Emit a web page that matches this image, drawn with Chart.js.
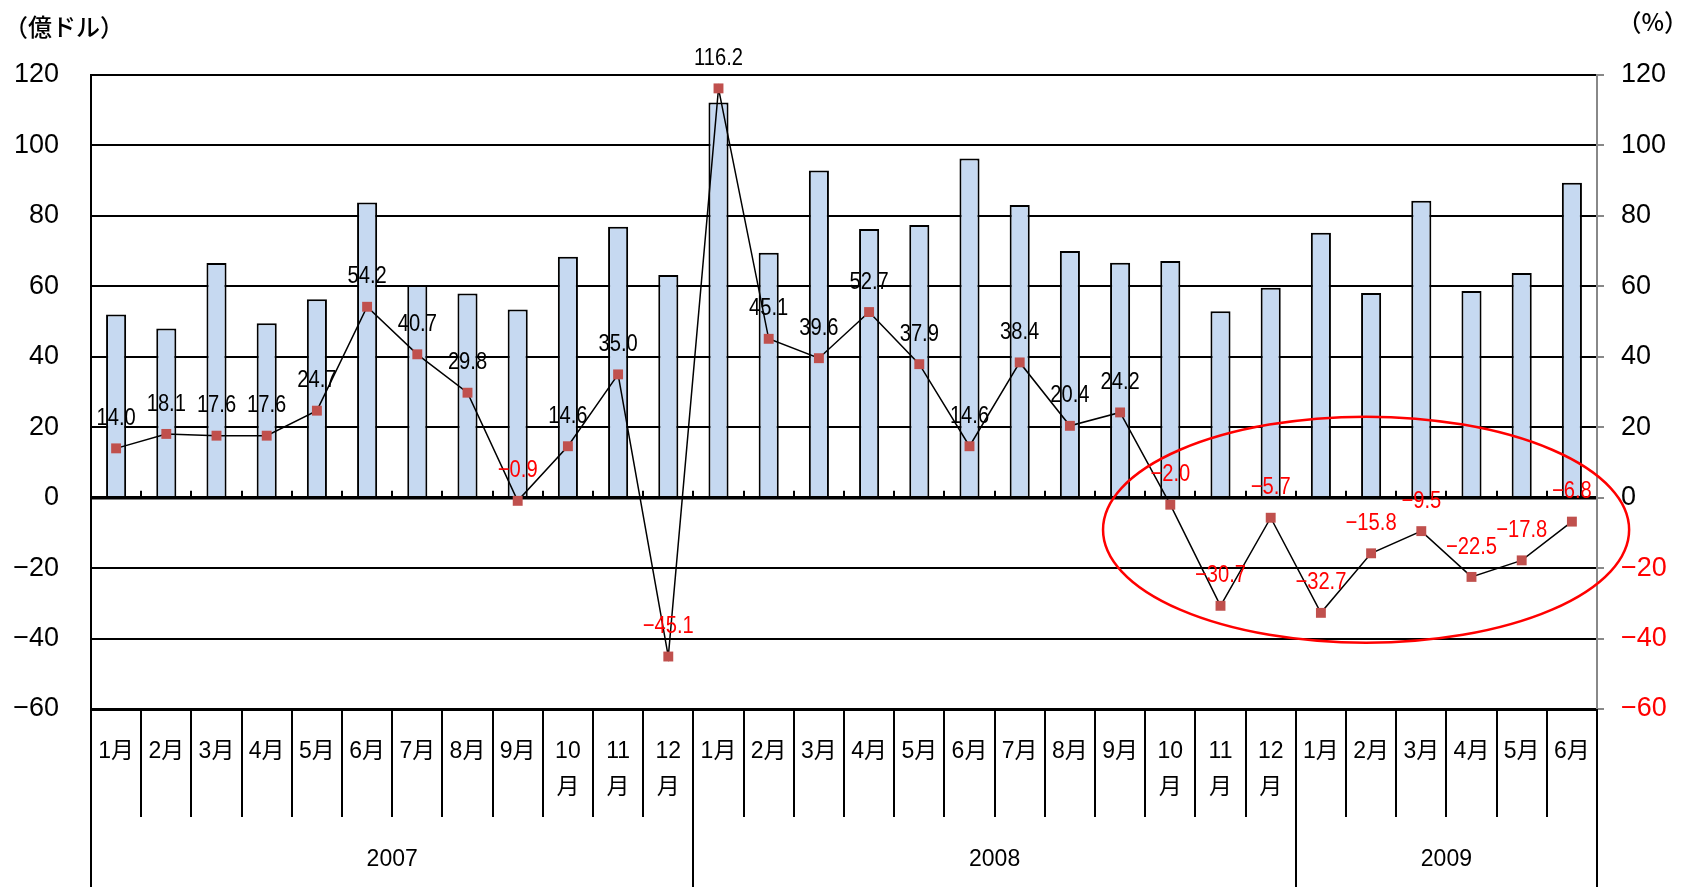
<!DOCTYPE html>
<html><head><meta charset="utf-8">
<script src="https://cdn.jsdelivr.net/npm/chart.js@4.4.1/dist/chart.umd.min.js"></script>
<style>html,body{margin:0;padding:0;background:#fff;} #wrap{width:1686px;height:887px;}</style>
</head><body><div id="wrap"><canvas id="c" width="1686" height="887"></canvas></div>
<script>
// ---- data ----
const monthNumbers = ['1','2','3','4','5','6','7','8','9','10','11','12','1','2','3','4','5','6','7','8','9','10','11','12','1','2','3','4','5','6'];
const years = ['2007','2008','2009'];
const monthsPerYear = [12, 12, 6];
// 輸出額（億ドル）- bars, left axis
const exportValues = [52.0, 48.0, 66.6, 49.5, 56.3, 83.8, 60.4, 58.0, 53.4, 68.4, 76.9, 63.2,
                      112.2, 69.5, 92.9, 76.3, 77.4, 96.3, 83.1, 70.0, 66.7, 67.2, 52.9, 59.6,
                      75.2, 58.1, 84.3, 58.7, 63.8, 89.4];
// 前年同月比（%）- line, right axis
const growthRates = [14.0, 18.1, 17.6, 17.6, 24.7, 54.2, 40.7, 29.8, -0.9, 14.6, 35.0, -45.1,
                     116.2, 45.1, 39.6, 52.7, 37.9, 14.6, 38.4, 20.4, 24.2, -2.0, -30.7, -5.7,
                     -32.7, -15.8, -9.5, -22.5, -17.8, -6.8];
const axisTicks = [-60, -40, -20, 0, 20, 40, 60, 80, 100, 120];
const leftUnit = '（億ドル）';
const rightUnit = '（%）';
// highlighted region (Oct 2008 – Jun 2009)
const ellipseCenterIndex = 24.9, ellipseCenterValue = -9.1, ellipseHalfCats = 5.24, ellipseHalfUnits = 32.1;

// ---- helpers ----
const monthLabels = monthNumbers.map(m => m.length > 1 ? [m, '月'] : m + '月');
const minus = s => s.replace('-', '−');
const fmtTick = v => minus(String(v));
const fmtVal = v => minus(v.toFixed(1));
const TXT_FONT = '"Liberation Sans", "Noto Sans CJK JP", sans-serif';

const decorPlugin = {
  id: 'decor',
  afterDatasetsDraw(chart) {
    const {ctx, scales} = chart;
    const x = scales.x, y2 = scales.y2;
    // data labels (slightly condensed)
    const meta = chart.getDatasetMeta(1);
    ctx.save();
    ctx.font = '24px ' + TXT_FONT;
    ctx.textAlign = 'center';
    ctx.textBaseline = 'middle';
    meta.data.forEach((pt, i) => {
      const v = growthRates[i];
      ctx.save();
      ctx.translate(pt.x, pt.y - 30);
      ctx.scale(0.84, 1);
      ctx.fillStyle = v < 0 ? '#FF0000' : '#000000';
      ctx.fillText(fmtVal(v), 0, 0);
      ctx.restore();
    });
    // ellipse
    const cx = x.getPixelForValue(ellipseCenterIndex);
    const rx = x.getPixelForValue(ellipseCenterIndex + ellipseHalfCats) - cx;
    const cy = y2.getPixelForValue(ellipseCenterValue);
    const ry = y2.getPixelForValue(ellipseCenterValue - ellipseHalfUnits) - cy;
    ctx.strokeStyle = '#FF0000';
    ctx.lineWidth = 2.5;
    ctx.beginPath();
    ctx.ellipse(cx, cy, rx, ry, 0, 0, Math.PI * 2);
    ctx.stroke();
    ctx.restore();
  },
  afterDraw(chart) {
    const {ctx, chartArea, scales} = chart;
    const x = scales.x, y = scales.y;
    const step = x.getPixelForValue(1) - x.getPixelForValue(0);
    const y0 = y.getPixelForValue(0);
    ctx.save();
    ctx.strokeStyle = '#000';
    ctx.lineWidth = 2;
    // small ticks on zero line
    for (let i = 1; i < monthNumbers.length; i++) {
      const px = Math.round(x.getPixelForValue(i) - step / 2);
      ctx.beginPath(); ctx.moveTo(px, y0); ctx.lineTo(px, y0 - 7); ctx.stroke();
    }
    // year dividers + labels
    let idx = 0;
    const bounds = [0];
    monthsPerYear.forEach(c => { idx += c; bounds.push(idx); });
    bounds.forEach(b => {
      const px = Math.round(x.getPixelForValue(b) - step / 2);
      ctx.beginPath(); ctx.moveTo(px, chartArea.bottom); ctx.lineTo(px, chart.height); ctx.stroke();
    });
    ctx.fillStyle = '#000';
    ctx.font = '23px ' + TXT_FONT;
    ctx.textAlign = 'center';
    ctx.textBaseline = 'middle';
    years.forEach((yr, k) => {
      const a = x.getPixelForValue(bounds[k]) - step / 2;
      const b = x.getPixelForValue(bounds[k + 1]) - step / 2;
      ctx.fillText(yr, (a + b) / 2, 860);
    });
    // unit labels
    ctx.font = '500 24px "Noto Sans CJK JP", sans-serif';
    ctx.textAlign = 'left';
    ctx.fillText(leftUnit, 4, 27);
    ctx.textAlign = 'right';
    ctx.fillText(rightUnit, 1688, 22);
    ctx.restore();
  }
};

new Chart(document.getElementById('c'), {
  type: 'bar',
  data: {
    labels: monthLabels,
    datasets: [
      {
        type: 'bar', label: '輸出額', data: exportValues, yAxisID: 'y', order: 1,
        backgroundColor: '#C6D9F1', borderColor: '#000', borderWidth: 2,
        barPercentage: 0.4, categoryPercentage: 1.0
      },
      {
        type: 'line', label: '前年同月比', data: growthRates, yAxisID: 'y2', order: 0,
        borderColor: '#000', borderWidth: 1.5, tension: 0,
        pointStyle: 'rect', pointRadius: 7, pointBackgroundColor: '#C0504D', pointBorderColor: '#C0504D', pointBorderWidth: 0
      }
    ]
  },
  options: {
    responsive: false, animation: false, devicePixelRatio: 1,
    layout: { padding: { top: 75, left: 0, right: 0, bottom: 0 } },
    plugins: { legend: { display: false }, tooltip: { enabled: false } },
    scales: {
      x: {
        type: 'category', offset: true,
        grid: { offset: true, drawOnChartArea: false, drawTicks: true, tickLength: 108, color: '#000', lineWidth: 2 },
        border: { display: true, color: '#000', width: 3 },
        ticks: { autoSkip: false, maxRotation: 0, minRotation: 0, padding: -83, color: '#000',
                 font: { family: TXT_FONT, size: 23, lineHeight: 1.55 } },
        afterFit(s) { s.height = 178; }
      },
      y: {
        position: 'left', min: -60, max: 120,
        afterBuildTicks(s) { s.ticks = axisTicks.map(v => ({ value: v })); },
        ticks: { padding: 32, color: '#000', font: { family: TXT_FONT, size: 27 }, callback: v => fmtTick(v) },
        grid: { color: '#000', lineWidth: c => (c.tick && c.tick.value === 0) ? 3.5 : 2, drawTicks: false },
        border: { display: true, color: '#000', width: 2 },
        afterFit(s) { s.width = 91; }
      },
      y2: {
        position: 'right', min: -60, max: 120,
        afterBuildTicks(s) { s.ticks = axisTicks.map(v => ({ value: v })); },
        ticks: { padding: 17, color: c => c.tick.value < 0 ? '#FF0000' : '#000', font: { family: TXT_FONT, size: 27 }, callback: v => fmtTick(v) },
        grid: { drawOnChartArea: false, drawTicks: true, tickLength: 7, color: '#888', lineWidth: 2 },
        border: { display: true, color: '#888', width: 2 },
        afterFit(s) { s.width = 89; }
      }
    }
  },
  plugins: [decorPlugin]
});
</script>
</body></html>
